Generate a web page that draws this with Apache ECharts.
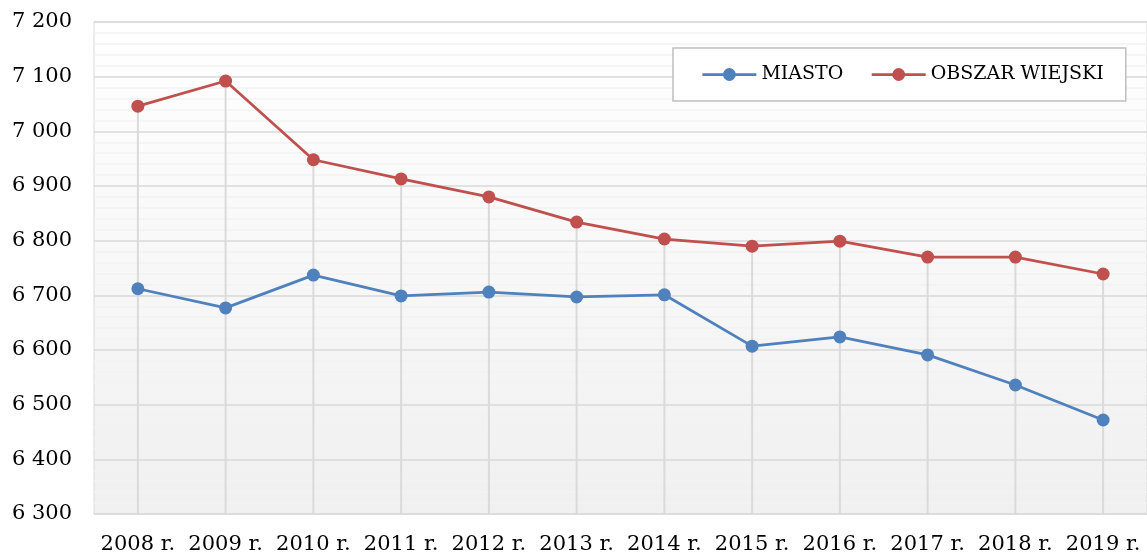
<!DOCTYPE html>
<html>
<head>
<meta charset="utf-8">
<script src="https://cdn.jsdelivr.net/npm/echarts@6/dist/echarts.min.js"></script>
<style>
  html, body { margin: 0; padding: 0; background: #fff; }
  #chart { width: 1147px; height: 555px; }
</style>
</head>
<body>
<div id="chart"></div>
<script>
const years = ["2008 r.", "2009 r.", "2010 r.", "2011 r.", "2012 r.", "2013 r.",
  "2014 r.", "2015 r.", "2016 r.", "2017 r.", "2018 r.", "2019 r."];
const miasto = [6712, 6677, 6737, 6699, 6706, 6697, 6701, 6607, 6624, 6591, 6536, 6472];
const wies = [7046, 7092, 6948, 6913, 6880, 6834, 6803, 6790, 6799, 6770, 6770, 6739];

const font = "DejaVu Serif";
// linie spadku (drop lines) do najwyższego punktu
const dropLines = years.map((y, i) => Math.max(miasto[i], wies[i]));

const chart = echarts.init(document.getElementById("chart"));

chart.setOption({
  animation: false,
  grid: {
    left: 94,
    right: 0,
    top: 22,
    bottom: 41,
    show: true,
    borderColor: "#d9d9d9",
    borderWidth: 1,
    backgroundColor: new echarts.graphic.LinearGradient(0, 0, 0, 1, [
      { offset: 0, color: "#ffffff" },
      { offset: 1, color: "#f0f0f0" },
    ]),
  },
  legend: {
    left: 673,
    top: 48,
    padding: [17, 22, 17, 28],
    itemGap: 27,
    itemWidth: 54,
    itemHeight: 16,
    lineStyle: { width: 2.75 },
    borderColor: "#bfbfbf",
    borderWidth: 1.5,
    backgroundColor: "#fff",
    textStyle: { fontFamily: font, fontSize: 19, color: "#000" },
    data: ["MIASTO", "OBSZAR WIEJSKI"],
  },
  xAxis: {
    type: "category",
    data: years,
    boundaryGap: true,
    axisLine: { show: false },
    axisTick: { show: false },
    splitLine: { show: false },
    axisLabel: {
      fontFamily: font,
      fontSize: 21,
      color: "#000",
      margin: 20,
      interval: 0,
    },
  },
  yAxis: {
    type: "value",
    min: 6300,
    max: 7200,
    interval: 100,
    axisLine: { show: false },
    axisTick: { show: false },
    axisLabel: {
      fontFamily: font,
      fontSize: 21,
      color: "#000",
      margin: 22,
      formatter: (v) => String(v).replace(/\B(?=(\d{3})+$)/g, " "),
    },
    splitLine: { lineStyle: { color: "#d9d9d9", width: 1.5 } },
    minorTick: { show: false, splitNumber: 5 },
    minorSplitLine: { show: true, lineStyle: { color: "#f2f2f2", width: 1.5 } },
  },
  series: [
    {
      name: "drop",
      type: "bar",
      data: dropLines,
      barWidth: 2,
      silent: true,
      itemStyle: { color: "#dadada" },
      z: 1,
    },
    {
      name: "MIASTO",
      type: "line",
      data: miasto,
      symbol: "circle",
      symbolSize: 13,
      color: "#4f81bd",
      lineStyle: { width: 2.75 },
      z: 3,
    },
    {
      name: "OBSZAR WIEJSKI",
      type: "line",
      data: wies,
      symbol: "circle",
      symbolSize: 13,
      color: "#c0504d",
      lineStyle: { width: 2.75 },
      z: 3,
    },
  ],
});
</script>
</body>
</html>
